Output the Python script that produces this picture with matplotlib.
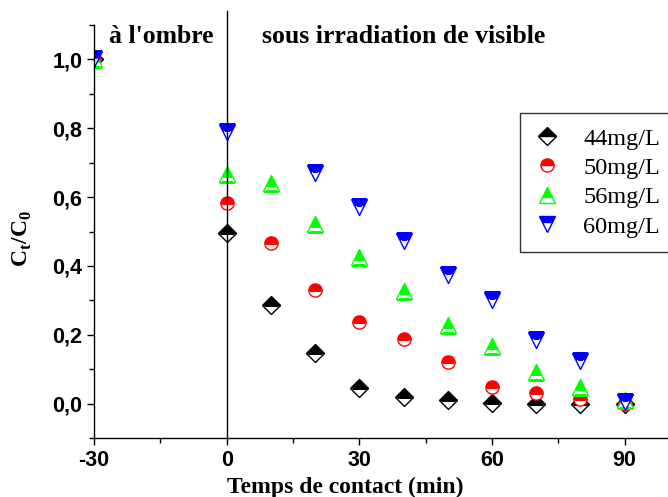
import matplotlib.pyplot as plt
from matplotlib.path import Path
from matplotlib.ticker import MultipleLocator, FuncFormatter

plt.rcParams['axes.unicode_minus'] = False

# temps de contact (min)
t = [-30, 0, 10, 20, 30, 40, 50, 60, 70, 80, 90]
t_60 = [-30, 0, 20, 30, 40, 50, 60, 70, 80, 90]

c44 = [1.0, 0.497, 0.285, 0.146, 0.044, 0.018, 0.010, 0.001, 0.0, 0.0, 0.0]
c50 = [1.0, 0.584, 0.468, 0.331, 0.238, 0.189, 0.122, 0.047, 0.032, 0.012, 0.0]
c56 = [1.0, 0.666, 0.640, 0.523, 0.427, 0.326, 0.227, 0.166, 0.093, 0.047, 0.010]
c60 = [1.0, 0.788, 0.669, 0.570, 0.471, 0.375, 0.300, 0.186, 0.125, 0.006]

labels = ['44mg/L', '50mg/L', '56mg/L', '60mg/L']

serif = 'Liberation Serif'
sans = 'Liberation Sans'

fig = plt.figure(figsize=(6.68, 4.97), dpi=100)
ax = fig.add_axes([0.1407, 0.1187, 0.8593, 0.831])

kw = dict(linestyle='none', fillstyle='top', markerfacecoloralt='white', markeredgewidth=1.0)
lines = []
lines += ax.plot(t, c44, 'D', color='black', markersize=9.5, label=labels[0], **kw)
lines += ax.plot(t, c50, 'o', color='red', markersize=9.5, label=labels[1], **kw)
lines += ax.plot(t, c56, '^', color='#00ff00', markersize=12, label=labels[2], **kw)
lines += ax.plot(t_60, c60, 'v', color='blue', markersize=12, label=labels[3], **kw)
# vrai decoupage des marqueurs au bord gauche
for ln in lines:
    ln.set_clip_path(Path.unit_rectangle(), ax.transAxes)

ax.set_xlim(-30, 99.8)
ax.set_ylim(-0.1, 1.1)

# separation obscurite / irradiation
ax.plot([0, 0], [-0.1, 1.14], color='black', linewidth=1.0, clip_on=False)

ax.spines['top'].set_visible(False)
ax.spines['right'].set_visible(False)
ax.spines['left'].set_linewidth(1.0)
ax.spines['bottom'].set_linewidth(1.0)

ax.xaxis.set_major_locator(MultipleLocator(30))
ax.xaxis.set_minor_locator(MultipleLocator(15))
ax.yaxis.set_major_locator(MultipleLocator(0.2))
ax.yaxis.set_minor_locator(MultipleLocator(0.1))
ax.yaxis.set_major_formatter(FuncFormatter(lambda v, p: f'{v:.1f}'.replace('.', ',')))
ax.tick_params(which='major', direction='out', length=5, width=1)
ax.tick_params(which='minor', direction='out', length=3.5, width=1)
for lab in ax.get_xticklabels() + ax.get_yticklabels():
    lab.set_fontfamily(sans)
    lab.set_fontweight('bold')
    lab.set_fontsize(15.5)

fig.text(345 / 668, 1 - 487 / 497, 'Temps de contact (min)', fontfamily=serif,
         fontweight='bold', fontsize=17, ha='center', va='center')
fig.text(22 / 668, 1 - 238 / 497, 'C$_\\mathregular{t}$/C$_\\mathregular{0}$',
         fontfamily=serif, fontweight='bold', fontsize=17, rotation=90,
         ha='center', va='center')

ax.text(-14.8, 1.066, "à l'ombre", fontfamily=serif, fontweight='bold', fontsize=18.5,
        ha='center', va='center')
ax.text(40.1, 1.066, 'sous irradiation de visible', fontfamily=serif, fontweight='bold',
        fontsize=18.5, ha='center', va='center')

leg = ax.legend(loc='upper left', bbox_to_anchor=(520 / 668, 1 - 113 / 497),
                bbox_transform=fig.transFigure, borderaxespad=0, frameon=True,
                fancybox=False, prop={'family': serif, 'size': 17.5}, borderpad=0.6,
                labelspacing=0.3, handletextpad=1.0, handlelength=1.0)
leg.get_frame().set_edgecolor('black')
leg.get_frame().set_linewidth(1.0)

fig.savefig('out.png', dpi=100)
